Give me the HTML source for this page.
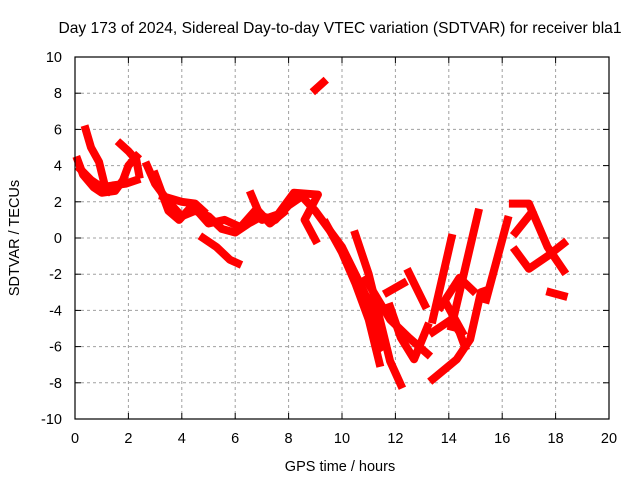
<!DOCTYPE html>
<html><head><meta charset="utf-8"><style>
body{margin:0;background:#fff;}
svg{display:block;font-family:"Liberation Sans",sans-serif;}
</style></head><body>
<svg id="chart" width="640" height="480">
<text x="340" y="33" text-anchor="middle" font-size="15.6" fill="#000">Day 173 of 2024, Sidereal Day-to-day VTEC variation (SDTVAR) for receiver bla1</text>
<g id="grid"></g>
<g id="ticks"></g>
<g id="series"></g>
<rect x="75" y="57" width="534" height="362" fill="none" stroke="#000" stroke-width="1.2"/>
<text x="340" y="471" text-anchor="middle" font-size="14.5">GPS time / hours</text>
<text transform="translate(19,238) rotate(-90)" text-anchor="middle" font-size="14.5">SDTVAR / TECUs</text>
</svg>
<script>
const xTicks=[0,2,4,6,8,10,12,14,16,18,20];
const yTicks=[-10,-8,-6,-4,-2,0,2,4,6,8,10];
const trackA=[[0.1,4.3],[0.3,3.5],[0.7,2.8],[1.0,2.5],[1.5,2.6],[1.8,3.2],[2.0,4.0],[2.3,4.5]];
const trackA2=[[0.2,3.8],[0.6,3.2],[1.0,2.8],[1.4,2.9],[1.9,3.0],[2.3,3.2]];
const trackB=[[0.4,6.0],[0.6,5.0],[0.9,4.2],[1.1,3.0],[1.3,2.6]];
const trackC=[[1.7,5.2],[2.0,4.8],[2.3,4.3],[2.4,3.5]];
const trackMain=[[2.7,4.0],[3.0,3.0],[3.5,2.0],[4.0,1.2],[4.5,1.5],[5.0,1.2],[5.5,0.5],[6.0,0.3],[6.5,0.8],[7.0,1.2],[7.5,1.0],[8.0,1.8],[8.5,2.3],[9.0,1.5],[9.5,0.5],[10.0,-0.5],[10.5,-2.0],[11.0,-3.5],[11.3,-5.5],[11.5,-6.0]];
const trackD=[[4.8,0.0],[5.3,-0.5],[5.8,-1.2],[6.1,-1.4]];
const trackE=[[9.0,8.2],[9.3,8.6]];
const trackF=[[3.3,2.3],[4.0,2.0],[4.5,1.9],[4.8,1.5]];
const trackF2=[[3.0,3.5],[3.5,1.5],[3.9,1.0],[4.4,1.8],[5.0,0.8],[5.6,1.0],[6.2,0.6],[6.8,1.6],[7.3,0.8],[7.8,1.4]];
const trackG=[[6.6,2.4],[7.0,1.0],[7.6,1.3],[8.2,2.5],[9.1,2.4],[8.6,1.0],[9.0,-0.1]];
const trackH=[[9.4,0.8],[10.0,-0.8],[10.5,-2.5],[11.0,-4.5],[11.4,-6.9]];
const trackI=[[10.5,0.2],[11.0,-2.0],[11.5,-5.0],[11.8,-6.8],[12.2,-8.1]];
const trackJ=[[11.7,-3.0],[12.3,-2.5]];
const trackK=[[11.8,-3.8],[12.2,-5.5],[12.7,-6.7],[13.2,-4.9]];
const trackL=[[12.5,-1.9],[13.1,-3.7]];
const trackM=[[10.9,-2.3],[11.8,-4.5],[12.5,-5.5],[13.2,-6.4]];
const trackN=[[13.4,-7.8],[14.3,-6.7],[14.8,-5.6],[15.2,-3.0],[15.4,-2.9]];
const trackO=[[13.4,-4.5],[14.1,0.0]];
const trackP=[[13.4,-5.2],[14.1,-4.5],[14.4,-5.2],[14.6,-6.0]];
const trackQ=[[13.7,-3.8],[14.4,-2.2],[14.9,-2.9]];
const trackR=[[13.9,-3.6],[14.5,-5.2]];
const trackS=[[14.1,-4.9],[15.1,1.4]];
const trackT=[[15.4,-3.4],[16.2,1.0]];
const trackU=[[16.4,1.9],[17.0,1.9],[17.7,-0.5],[18.3,-1.8]];
const trackV=[[16.5,-0.7],[17.0,-1.7],[17.7,-1.0],[18.3,-0.3]];
const trackW=[[17.1,1.4],[16.5,0.3]];
const trackX=[[17.8,-3.0],[18.3,-3.2]];
const tracks=[trackA,trackA2,trackB,trackC,trackMain,trackD,trackE,trackF,trackF2,trackG,trackH,trackI,trackJ,trackK,trackL,trackM,trackN,trackO,trackP,trackQ,trackR,trackS,trackT,trackU,trackV,trackW,trackX];

const X0=75,X1=609,Y0=419,Y1=57;
const xs=v=>X0+(v-0)/20*(X1-X0);
const ys=v=>Y0-(v+10)/20*(Y0-Y1);
const NS="http://www.w3.org/2000/svg";
const grid=document.getElementById('grid'),ticks=document.getElementById('ticks'),series=document.getElementById('series');
function mk(t,a,p){const e=document.createElementNS(NS,t);for(const k in a)e.setAttribute(k,a[k]);p.appendChild(e);return e;}
xTicks.forEach(v=>{
  const x=xs(v);
  if(v>0&&v<20){const g=mk('line',{x1:x,x2:x,y1:Y1,y2:Y0,stroke:'#a0a0a0','stroke-dasharray':'3,3'},grid);
  
  }
  mk('line',{x1:x,x2:x,y1:Y0,y2:Y0-6,stroke:'#000'},ticks);
  mk('line',{x1:x,x2:x,y1:Y1,y2:Y1+6,stroke:'#000'},ticks);
  const t=mk('text',{x:x,y:443,'text-anchor':'middle','font-size':'14.5'},ticks);t.textContent=v;
  
  
});
yTicks.forEach(v=>{
  const y=ys(v);
  if(v>-10&&v<10){const g=mk('line',{x1:X0,x2:X1,y1:y,y2:y,stroke:'#a0a0a0','stroke-dasharray':'3,3'},grid);
  
  }
  mk('line',{x1:X0,x2:X0+6,y1:y,y2:y,stroke:'#000'},ticks);
  mk('line',{x1:X1,x2:X1-6,y1:y,y2:y,stroke:'#000'},ticks);
  const t=mk('text',{x:62,y:y+5,'text-anchor':'end','font-size':'14.5'},ticks);t.textContent=v;
  
  
});
tracks.forEach(tr=>{
  const p=mk('polyline',{points:tr.map(d=>xs(d[0])+','+ys(d[1])).join(' '),fill:'none',stroke:'#ff0000','stroke-width':8,'stroke-linejoin':'round','stroke-linecap':'square'},series);
  
  
});
</script>
</body></html>
